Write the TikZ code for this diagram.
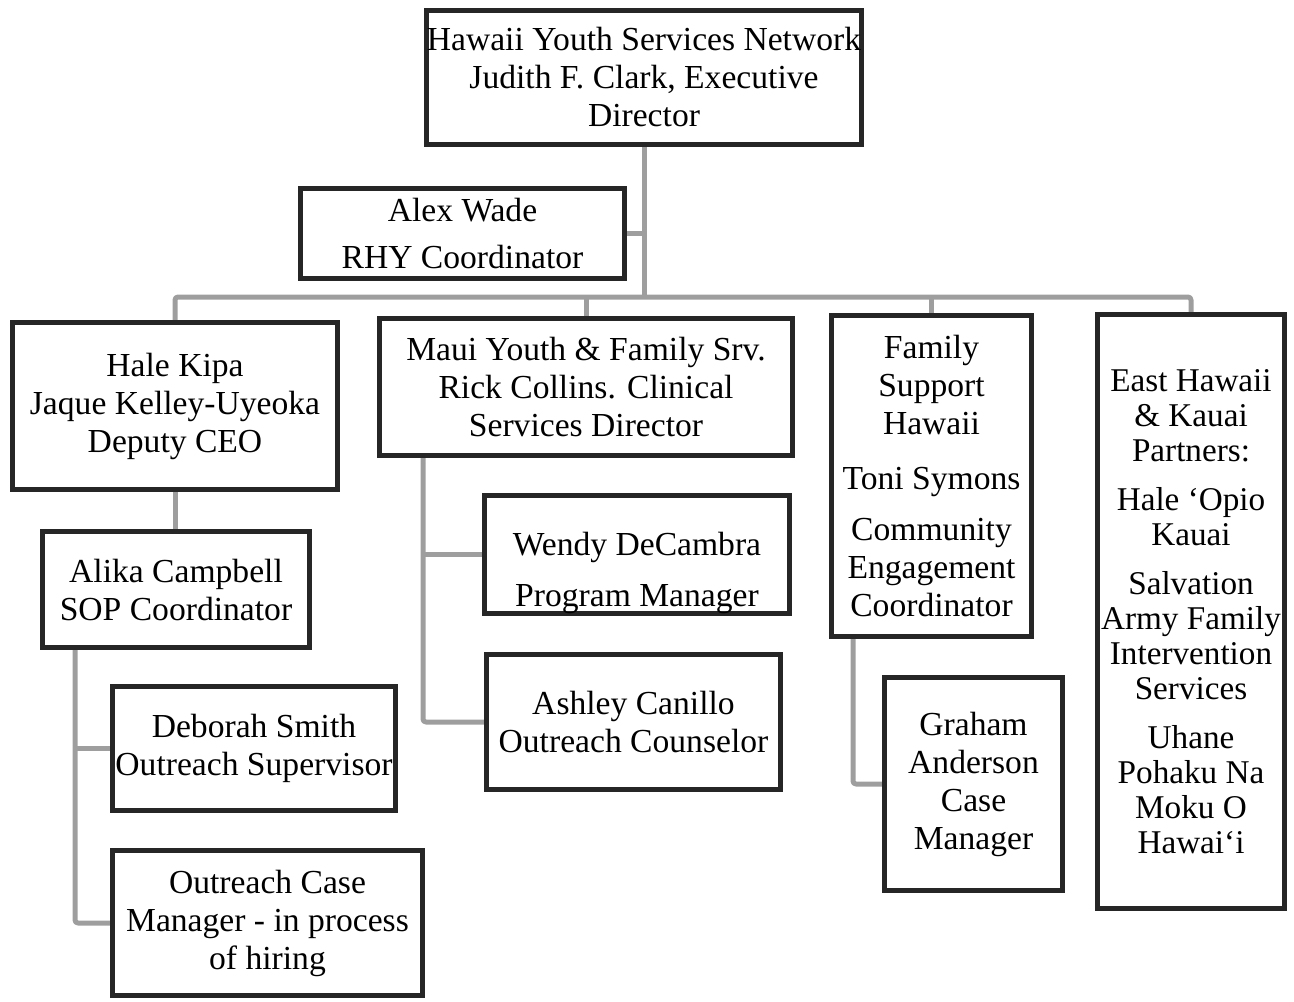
\documentclass[tikz,border=0pt]{standalone}
\usepackage{fontspec}
\setmainfont{Liberation Serif}
\usetikzlibrary{calc,backgrounds}
\tikzset{
  orgbox/.style={draw=black!85,line width=2.6pt,fill=white,align=center,inner sep=0pt,font=\fontsize{16.8}{19}\selectfont},
  link/.style={draw=black!38,line width=2.5pt,rounded corners=1.5pt,line join=round}
}

\begin{document}
\begin{tikzpicture}[x=0.5pt,y=-0.5pt]
\useasboundingbox (0,0) rectangle (1294,1001);
\node[orgbox,minimum width=217.5pt,minimum height=67pt] (top) at (644,77.5) {Hawaii Youth Services Network\\Judith F. Clark, Executive\\Director};
\node[orgbox,minimum width=162pt,minimum height=45pt] (wade) at (462.5,233.5) {Alex Wade\\[4.5pt]RHY Coordinator};
\node[orgbox,minimum width=162.5pt,minimum height=83.5pt] (kipa) at (175,406) {Hale Kipa\\Jaque Kelley-Uyeoka\\Deputy CEO};
\node[orgbox,minimum width=206.5pt,minimum height=68.5pt] (maui) at (586,387) {Maui Youth \& Family Srv.\\Rick Collins. Clinical\\Services Director};
\node[orgbox,minimum width=100pt,minimum height=160.5pt] (fsh) at (931.5,476) {Family\\Support\\Hawaii\\[8.5pt]Toni Symons\\[6.5pt]Community\\Engagement\\Coordinator};
\node[orgbox,minimum width=93.5pt,minimum height=297pt,font=\fontsize{16.6}{17.5}\selectfont] (east) at (1191,611.5) {East Hawaii\\\& Kauai\\Partners:\\[7pt]Hale `Opio\\Kauai\\[7pt]Salvation\\Army Family\\Intervention\\Services\\[7pt]Uhane\\Pohaku Na\\Moku O\\Hawai`i};
\node[orgbox,minimum width=133.5pt,minimum height=58pt] (alika) at (176,589.5) {Alika Campbell\\SOP Coordinator};
\node[orgbox,minimum width=141.5pt,minimum height=62pt] (deborah) at (254,748.5) {Deborah Smith\\Outreach Supervisor};
\node[orgbox,minimum width=155pt,minimum height=72.5pt] (ocm) at (267.5,923) {Outreach Case\\Manager - in process\\of hiring};
\node[orgbox,minimum width=152.5pt,minimum height=58pt] (wendy) at (637,554.5) {\rule{0pt}{30pt}Wendy DeCambra\\[6.5pt]Program Manager};
\node[orgbox,minimum width=147pt,minimum height=67.5pt] (ashley) at (633.5,722) {Ashley Canillo\\Outreach Counselor};
\node[orgbox,minimum width=89pt,minimum height=106.5pt] (graham) at (973.5,784) {Graham\\Anderson\\Case\\Manager};
\coordinate (bus) at (0,297);
\coordinate (alikatap) at (75,650);
\coordinate (mauitap) at (423,458);
\coordinate (fshtap) at (853,639);
\begin{scope}[on background layer]
\draw[link] (top.south) -- (top.south |- bus);
\draw[link] (wade.east) -- (wade.east -| top.south);
\draw[link] (kipa.north) -- (kipa.north |- bus) -- (east.north |- bus) -- (east.north);
\draw[link] (maui.north) -- (maui.north |- bus);
\draw[link] (fsh.north) -- (fsh.north |- bus);
\draw[link] (kipa.south) -- (kipa.south |- alika.north);
\draw[link] (alikatap) |- (ocm.west);
\draw[link] (alikatap |- deborah.west) -- (deborah.west);
\draw[link] (mauitap) |- (ashley.west);
\draw[link] (mauitap |- wendy.west) -- (wendy.west);
\draw[link] (fshtap) |- (graham.west);
\end{scope}
\end{tikzpicture}
\end{document}
